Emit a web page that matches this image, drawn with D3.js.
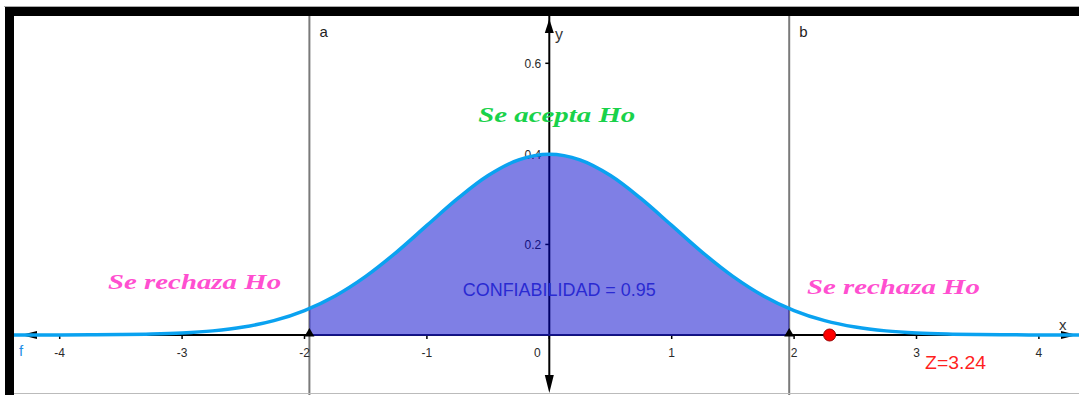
<!DOCTYPE html>
<html>
<head>
<meta charset="utf-8">
<script src="https://cdn.jsdelivr.net/npm/d3@7"></script>
<style>
  body { margin: 0; background: #fff; }
  svg { display: block; }
</style>
</head>
<body>
<svg id="chart"></svg>
<script>
(function () {
  // Values
  var X_TICKS = [-4, -3, -2, -1, 0, 1, 2, 3, 4]
  var Y_TICKS = [0.2, 0.4, 0.6]
  var CURVE_X = [-4.5, -4.25, -4, -3.75, -3.5, -3.25, -3, -2.75, -2.5, -2.25, -2, -1.75, -1.5, -1.25, -1, -0.75, -0.5, -0.25,
    0, 0.25, 0.5, 0.75, 1, 1.25, 1.5, 1.75, 2, 2.25, 2.5, 2.75, 3, 3.25, 3.5, 3.75, 4, 4.25, 4.5]
  var CURVE_Y = [0, 0, 0.0001, 0.0004, 0.0009, 0.002, 0.0044, 0.0091, 0.0175, 0.0317, 0.054, 0.0863, 0.1295, 0.1826, 0.242, 0.3011, 0.3521, 0.3867,
    0.3989, 0.3867, 0.3521, 0.3011, 0.242, 0.1826, 0.1295, 0.0863, 0.054, 0.0317, 0.0175, 0.0091, 0.0044, 0.002, 0.0009, 0.0004, 0.0001, 0, 0]
  var BOUNDS = [-1.96, 1.96]
  var BOUND_NAMES = ['a', 'b']
  var Z_POINT = [2.29]
  var Z_LABEL = 'Z=3.24'
  var ACCEPT_LABEL = 'Se acepta Ho'
  var REJECT_LABEL = 'Se rechaza Ho'
  var CONF_LABEL = 'CONFIABILIDAD = 0.95'

  var WIDTH = 1079
  var HEIGHT = 395
  var AXIS_COLOR = '#000'
  var TEXT_COLOR = '#2a2a2a'
  var SANS = '"Liberation Sans", Arial, sans-serif'
  var SERIF = '"Liberation Serif", "DejaVu Serif", serif'

  var svg = d3.select('#chart')
    .attr('width', WIDTH)
    .attr('height', HEIGHT)

  var x = d3.scaleLinear().domain([-4, 4]).range([59.7, 1038.9])
  var y = d3.scaleLinear().domain([0, 0.6]).range([335, 63.3])

  var pts = CURVE_X.map(function (d, i) { return [d, CURVE_Y[i]] })

  // plot window clip
  svg.append('clipPath').attr('id', 'win')
    .append('rect')
    .attr('x', 14).attr('y', 16)
    .attr('width', WIDTH - 14).attr('height', HEIGHT - 16)

  var plot = svg.append('g').attr('clip-path', 'url(#win)')

  // vertical bound lines
  plot.selectAll('line.bound')
    .data(BOUNDS)
    .enter().append('line')
    .classed('bound', true)
    .attr('x1', function (d) { return x(d) })
    .attr('x2', function (d) { return x(d) })
    .attr('y1', 16)
    .attr('y2', HEIGHT)
    .attr('stroke', '#7a7a7a')
    .attr('stroke-width', 2)

  plot.selectAll('text.bound')
    .data(BOUNDS)
    .enter().append('text')
    .classed('bound', true)
    .attr('x', function (d) { return x(d) + 10 })
    .attr('y', 37)
    .attr('font-family', SANS)
    .attr('font-size', 15)
    .attr('fill', '#222')
    .text(function (d, i) { return BOUND_NAMES[i] })

  // x axis
  plot.append('line')
    .attr('x1', 14).attr('x2', 1072)
    .attr('y1', y(0)).attr('y2', y(0))
    .attr('stroke', AXIS_COLOR).attr('stroke-width', 2)
  plot.append('path')
    .attr('d', drawTri([21, y(0)], [37, y(0) - 4], [37, y(0) + 4]))
    .attr('fill', AXIS_COLOR)
  plot.append('path')
    .attr('d', drawTri([1077, y(0)], [1061, y(0) - 4], [1061, y(0) + 4]))
    .attr('fill', AXIS_COLOR)

  plot.selectAll('line.xtick')
    .data(X_TICKS)
    .enter().append('line')
    .classed('xtick', true)
    .attr('x1', function (d) { return x(d) })
    .attr('x2', function (d) { return x(d) })
    .attr('y1', y(0))
    .attr('y2', y(0) + 4)
    .attr('stroke', AXIS_COLOR)
    .attr('stroke-width', 1.5)

  plot.selectAll('text.xtick')
    .data(X_TICKS)
    .enter().append('text')
    .classed('xtick', true)
    .attr('x', function (d) { return d === 0 ? x(d) - 12 : x(d) })
    .attr('y', 357)
    .attr('text-anchor', 'middle')
    .attr('font-family', SANS)
    .attr('font-size', 12)
    .attr('fill', TEXT_COLOR)
    .text(function (d) { return d < 0 ? '-' + (-d) : d })

  // y axis
  var y0 = x(0)
  plot.append('line')
    .attr('x1', y0).attr('x2', y0)
    .attr('y1', 16).attr('y2', 385)
    .attr('stroke', AXIS_COLOR).attr('stroke-width', 2)
  plot.append('path')
    .attr('d', drawTri([y0, 19], [y0 - 4.5, 33], [y0 + 4.5, 33]))
    .attr('fill', AXIS_COLOR)
  plot.append('path')
    .attr('d', drawTri([y0, 393], [y0 - 4.5, 375], [y0 + 4.5, 375]))
    .attr('fill', AXIS_COLOR)

  plot.selectAll('line.ytick')
    .data(Y_TICKS)
    .enter().append('line')
    .classed('ytick', true)
    .attr('x1', y0 - 4)
    .attr('x2', y0)
    .attr('y1', function (d) { return y(d) })
    .attr('y2', function (d) { return y(d) })
    .attr('stroke', AXIS_COLOR)
    .attr('stroke-width', 1.5)

  plot.selectAll('text.ytick')
    .data(Y_TICKS)
    .enter().append('text')
    .classed('ytick', true)
    .attr('x', y0 - 8)
    .attr('y', function (d) { return y(d) + 5 })
    .attr('text-anchor', 'end')
    .attr('font-family', SANS)
    .attr('font-size', 12)
    .attr('fill', TEXT_COLOR)
    .text(function (d) { return d3.format('.1f')(d) })

  // axis names
  plot.append('text').attr('x', 1059).attr('y', 330)
    .attr('font-family', SANS).attr('font-size', 15).attr('fill', '#333').text('x')
  plot.append('text').attr('x', 555).attr('y', 40)
    .attr('font-family', SANS).attr('font-size', 16).attr('fill', '#333').text('y')

  // shaded area between bounds
  svg.append('clipPath').attr('id', 'band')
    .append('rect')
    .attr('x', x(BOUNDS[0]))
    .attr('y', 0)
    .attr('width', x(BOUNDS[1]) - x(BOUNDS[0]))
    .attr('height', HEIGHT)

  var area = d3.area()
    .x(function (d) { return x(d[0]) })
    .y0(y(0))
    .y1(function (d) { return y(d[1]) })
    .curve(d3.curveCatmullRom)

  plot.append('path')
    .datum(pts)
    .attr('clip-path', 'url(#band)')
    .attr('d', area)
    .attr('fill', '#0000cc')
    .attr('fill-opacity', 0.5)
    .attr('stroke', '#1a1aa0')
    .attr('stroke-width', 1.5)

  // bound points
  plot.selectAll('path.bpt')
    .data(BOUNDS)
    .enter().append('path')
    .classed('bpt', true)
    .attr('d', function (d) {
      var cx = x(d)
      return drawTri([cx, y(0) - 7], [cx - 5, y(0) + 1.5], [cx + 5, y(0) + 1.5])
    })
    .attr('fill', '#000')

  // density curve
  var line = d3.line()
    .x(function (d) { return x(d[0]) })
    .y(function (d) { return y(d[1]) })
    .curve(d3.curveCatmullRom)

  plot.append('path')
    .datum(pts)
    .attr('d', line)
    .attr('fill', 'none')
    .attr('stroke', '#0aa2f0')
    .attr('stroke-width', 3.5)

  plot.append('text').attr('x', 19).attr('y', 356)
    .attr('font-family', SANS).attr('font-size', 15).attr('fill', '#1e8ee6').text('f')

  // test statistic
  plot.selectAll('circle.z')
    .data(Z_POINT)
    .enter().append('circle')
    .classed('z', true)
    .attr('cx', function (d) { return x(d) })
    .attr('cy', y(0))
    .attr('r', 6)
    .attr('fill', '#f00')
    .attr('stroke', '#900')
    .attr('stroke-width', 1)

  plot.append('text')
    .attr('x', x(3.07)).attr('y', 369)
    .attr('font-family', SANS).attr('font-size', 19).attr('fill', '#ff1f1f')
    .attr('textLength', 61)
    .attr('lengthAdjust', 'spacingAndGlyphs')
    .text(Z_LABEL)

  // region labels
  function serifLabel(text, xv, yv, len, color) {
    plot.append('text')
      .attr('x', x(xv))
      .attr('y', y(yv))
      .attr('font-family', SERIF)
      .attr('font-style', 'italic')
      .attr('font-weight', 'bold')
      .attr('font-size', 20)
      .attr('textLength', len)
      .attr('lengthAdjust', 'spacingAndGlyphs')
      .attr('fill', color)
      .text(text)
  }
  serifLabel(ACCEPT_LABEL, -0.58, 0.470, 157, '#19d24a')
  serifLabel(REJECT_LABEL, -3.605, 0.1016, 173, '#ff4fd0')
  serifLabel(REJECT_LABEL, 2.105, 0.0905, 173, '#ff4fd0')

  plot.append('text')
    .attr('x', x(-0.707))
    .attr('y', y(0.086))
    .attr('font-family', SANS)
    .attr('font-size', 18)
    .attr('textLength', 193)
    .attr('lengthAdjust', 'spacingAndGlyphs')
    .attr('fill', '#2a2ad2')
    .text(CONF_LABEL)

  // frame
  svg.append('rect').attr('x', 5).attr('y', 7).attr('width', WIDTH).attr('height', 9).attr('fill', '#000')
  svg.append('rect').attr('x', 5).attr('y', 7).attr('width', 9).attr('height', HEIGHT).attr('fill', '#000')
  svg.append('line').attr('x1', 4).attr('x2', WIDTH).attr('y1', 6.5).attr('y2', 6.5).attr('stroke', '#aaa')
  svg.append('line').attr('x1', 14).attr('x2', WIDTH).attr('y1', 393.5).attr('y2', 393.5).attr('stroke', '#bbb')

  function drawTri(p1, p2, p3) {
    return 'M' + p1[0] + ',' + p1[1] + 'L' + p2[0] + ',' + p2[1] + 'L' + p3[0] + ',' + p3[1] + 'Z'
  }
})()
</script>
</body>
</html>
